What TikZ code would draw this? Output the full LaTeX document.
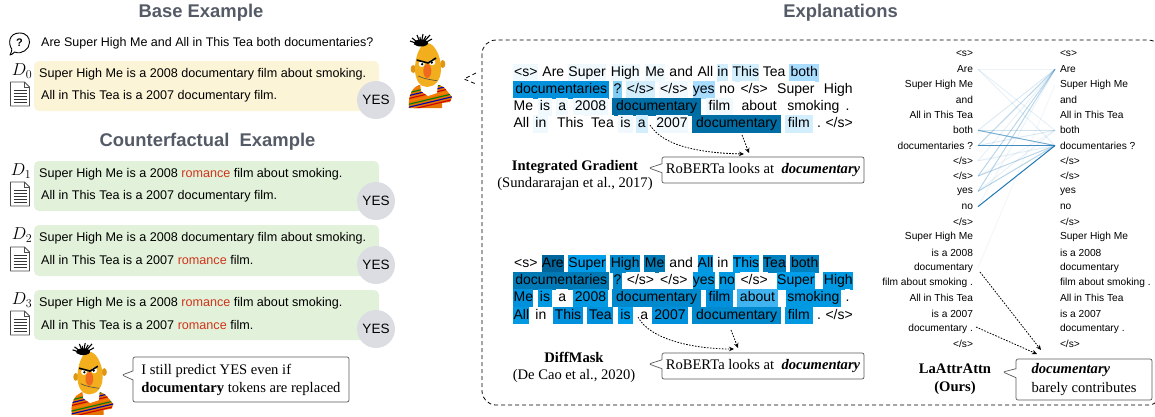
\documentclass[tikz,border=0pt]{standalone}
\usepackage{fontspec}
\setmainfont{Liberation Sans}
\newfontfamily\capfont{Liberation Serif}
\usetikzlibrary{shapes.callouts,arrows.meta}
\definecolor{headgrey}{HTML}{555B66}
\definecolor{yesgrey}{HTML}{DCDDE2}
\definecolor{basefill}{HTML}{FCF4D6}
\definecolor{cfill}{HTML}{E2F1D9}
\definecolor{swapred}{HTML}{D0351B}
\definecolor{edgeblue}{HTML}{1F77B4}
\definecolor{bertface}{HTML}{F2AE1C}
\definecolor{bertear}{HTML}{DE9614}
\definecolor{bertnose}{HTML}{F06A1E}
\definecolor{tz}{HTML}{FFFFFF}
\definecolor{ta}{HTML}{F0F9FE}
\definecolor{tb}{HTML}{D3EEFC}
\definecolor{tc}{HTML}{A8DDFF}
\definecolor{td}{HTML}{80CDF5}
\definecolor{te}{HTML}{0090DC}
\definecolor{tf}{HTML}{006EA5}
\definecolor{ma}{HTML}{00659B}
\definecolor{mb}{HTML}{009EEA}
\definecolor{mc}{HTML}{0089CC}
\definecolor{md}{HTML}{0079B5}
\definecolor{me}{HTML}{0099E2}
\definecolor{mf}{HTML}{0080BF}
\definecolor{mg}{HTML}{40B4F0}
\newcommand\eos{</s>}
\newcommand\tokrow[3]{%
  \foreach \a/\b/\c/\t [count=\i] in {#3} {
    \node[tokbox, fill=\c, minimum width={(\b-\a)/3}] (#1-\i) at ({480+(\a+\b)/6},#2) {\t};
  }}
\tikzset{
  tokbox/.style={inner sep=0pt, minimum height=17.2pt, text height=10.5pt, text depth=3pt, font=\fontsize{14}{14}\selectfont},
  head/.style={font=\fontsize{18.4}{20}\selectfont\bfseries, text=headgrey},
  doctext/.style={anchor=west, inner sep=0pt, font=\fontsize{12.6}{14}\selectfont},
  dlabel/.style={inner sep=0pt, font=\fontsize{18}{18}\selectfont},
  examplebox/.style={rounded corners=5pt},
  yescircle/.style={circle, fill=yesgrey, minimum size=38pt, inner sep=0pt, font=\fontsize{13.5}{14}\selectfont},
  speech/.style={rectangle callout, draw=black!65, fill=white, line width=.7pt, rounded corners=2pt, callout pointer width=9pt,
    inner sep=0pt, align=left, font=\capfont\fontsize{14.6}{18}\selectfont},
  method/.style={inner sep=0pt, align=center, font=\capfont\fontsize{14.6}{17.5}\selectfont},
  sidetok/.style={inner xsep=2.5pt, outer xsep=2.5pt, inner ysep=0pt, font=\fontsize{10.2}{11}\selectfont},
  dotarrow/.style={dash pattern=on 1.6pt off 1.4pt, line width=.8pt, -{Stealth[length=5pt,width=4.5pt]}},
  docicon/.pic={
    \draw[black!70, line width=.8pt, line join=round] (0,0) -- (14,0) -- (19,5) -- (19,24) -- (0,24) -- cycle;
    \draw[black!70, line width=.6pt] (14,0) -- (14,5) -- (19,5);
    \foreach \y in {8,11,14,17,20} \draw[black!80, line width=.7pt] (3,\y) -- (16,\y);
  },
  bert/.pic={
    % striped jumper
    \begin{scope}
      \clip (-21,75) .. controls (-22,62) and (-18,55) .. (-11,52) -- (9,52) .. controls (14,54) .. (17,58) -- (22,64) -- (20,69) -- (12,70) -- (12,75) -- cycle;
      \fill[orange!90!black] (-25,50) rectangle (25,78);
      \foreach \k/\co in {0/red!80!black,1/blue!70!black,2/green!50!black,3/orange,4/red!80!black,5/blue!70!black,6/green!50!black,7/orange,8/red!80!black,9/blue!70!black}
        \draw[\co, line width=1.1pt] (-25,{78-2.9*\k}) -- (25,{66-2.9*\k});
    \end{scope}
    \fill[white] (-10,50) -- (8,50) -- (7,60) -- (-2,63) -- (-9,58) -- cycle;
    % ears, head, nose
    \fill[bertear] (-16.7,36) ellipse (2.6 and 4);
    \fill[bertear] (12.7,31) ellipse (2.6 and 4);
    \fill[bertface] (-3,10) .. controls (4,10) and (11,22) .. (11,36) .. controls (11,48) and (4,54) .. (-3,54) .. controls (-10,54) and (-15,47) .. (-15,36) .. controls (-15,24) and (-10,10) .. (-3,10) -- cycle;
    % hair
    \foreach \xa/\ya in {-20/8,-18/5,-16/11,-13/2,-10/4,-7/1,-4/3,0/2,2/6}
      \draw[black, line width=1.1pt] (-9,12) -- (\xa,\ya);
    \fill[black] (-9,10) ellipse (7 and 3.5);
    % eyes and brows
    \fill[white] (-8.3,31) circle (3);
    \fill[white] (2.3,29.3) circle (3);
    \fill[black] (-7.8,31.2) circle (1.3);
    \fill[black] (1.8,29.6) circle (1.3);
    \draw[black, line width=1.6pt] (-13.3,27) -- (-2,30) -- (6,25);
    \fill[bertnose] (-2.7,38) ellipse (4 and 7);
    \draw[black!70, line width=.6pt] (-11.7,43) .. controls (-6,46) and (2,47) .. (7.3,47.7);
  }
}
\begin{document}
\begin{tikzpicture}[x=1pt,y=-1pt]
\useasboundingbox (0,0) rectangle (1155,416);
% left column
\node[head] (basehead) at (201,13) {Base Example};
\node[head] (cfhead) at (207.5,142) {Counterfactual~~Example};
\node[head] (explhead) at (840.5,13) {Explanations};
\draw[line width=.9pt, line join=round] (14.5,52) .. controls (12,54.5) .. (10,55) .. controls (11.5,52.5) and (12,50) .. (11.8,49) .. controls (8,44) and (8.5,33) .. (19.5,33) .. controls (27,33) and (29.5,38) .. (29.5,42.5) .. controls (29.5,49) and (22,55) .. (14.5,52);
\node[inner sep=0pt, font=\fontsize{11}{11}\selectfont\bfseries] (qmark) at (19.5,43) {?};
\node[doctext, font=\fontsize{12.5}{14}\selectfont] (question) at (41,43) {Are Super High Me and All in This Tea both documentaries?};
\fill[basefill, examplebox] (34,61) rectangle (379,111);
\fill[cfill, examplebox] (34,161) rectangle (379,211);
\fill[cfill, examplebox] (34,225) rectangle (379,276);
\fill[cfill, examplebox] (34,290) rectangle (379,340);
\node[dlabel] (d0) at (22,71) {$D_0$};
\node[dlabel] (d1) at (21,171) {$D_1$};
\node[dlabel] (d2) at (22,235) {$D_2$};
\node[dlabel] (d3) at (22,300) {$D_3$};
\pic at (10.5,82) {docicon};
\pic at (10.5,182) {docicon};
\pic at (10.5,247) {docicon};
\pic at (10.5,311) {docicon};
\node[doctext] (s0a) at (39,74) {Super High Me is a 2008 documentary film about smoking.};
\node[doctext] (s0b) at (41,96) {All in This Tea is a 2007 documentary film.};
\node[doctext] (s1a) at (39,174) {Super High Me is a 2008 \textcolor{swapred}{romance} film about smoking.};
\node[doctext] (s1b) at (41,196) {All in This Tea is a 2007 documentary film.};
\node[doctext] (s2a) at (39,238) {Super High Me is a 2008 documentary film about smoking.};
\node[doctext] (s2b) at (41,260) {All in This Tea is a 2007 \textcolor{swapred}{romance} film.};
\node[doctext] (s3a) at (39,303) {Super High Me is a 2008 \textcolor{swapred}{romance} film about smoking.};
\node[doctext] (s3b) at (41,325) {All in This Tea is a 2007 \textcolor{swapred}{romance} film.};
\node[yescircle] (yes0) at (376,100) {YES};
\node[yescircle] (yes1) at (376,201) {YES};
\node[yescircle] (yes2) at (376,265) {YES};
\node[yescircle] (yes3) at (376,329) {YES};
\pic at (430,33) {bert};
\pic[scale=.97] at (92,342) {bert};
\node[speech, minimum width=216pt, minimum height=45pt, callout absolute pointer={(122,375)}] (predict) at (241,379.5) {I still predict YES even if\\\textbf{documentary} tokens are replaced};
% explanations frame
\draw[dash pattern=on 4pt off 3pt, line width=.8pt] (476,73) -- (464,79) -- (476,84);
\draw[dash pattern=on 4pt off 3pt, line width=.8pt, rounded corners=14pt] (482,40) rectangle (1162,405);
% integrated gradient
\tokrow{iga}{73}{100/175/ta/<s>, 185/255/tz/Are, 265/378/ta/Super, 392/480/ta/High, 495/555/ta/Me, 567/640/tz/and, 652/700/tz/All, 712/745/tb/in, 757/838/tb/This, 850/915/tz/Tea, 928/1017/tc/both}
\tokrow{igb}{90}{100/387/te/documentaries, 400/425/td/?, 438/525/tb/\eos, 538/625/ta/\eos, 638/705/tc/yes, 718/765/tz/no, 780/865/tz/\eos, 890/1005/tz/Super, 1030/1120/tz/High}
\tokrow{igc}{107}{100/160/tz/Me, 175/215/ta/is, 228/265/ta/a, 278/385/ta/2008, 396/664/tf/documentary, 677/760/ta/film, 780/895/tz/about, 917/1083/tz/smoking, 1095/1110/tz/.}
\tokrow{igd}{124}{100/148/tz/All, 160/205/ta/in, 232/310/tz/This, 335/400/tz/Tea, 415/458/ta/is, 468/503/tb/a, 527/625/ta/2007, 636/904/tf/documentary, 915/998/tb/film, 1010/1025/tz/., 1035/1120/tz/\eos}
\coordinate (igfrom) at (650,125);
\coordinate (igto) at (744,154);
\coordinate (igfromb) at (742,135);
\coordinate (igtob) at (749,153);
\draw[dotarrow] (igfrom) .. controls (663,146) and (700,153) .. (igto);
\draw[dotarrow] (igfromb) -- (igtob);
\node[method] (igname) at (575,175.5) {\textbf{Integrated Gradient}\\(Sundararajan et al., 2017)};
\node[speech, minimum width=202pt, minimum height=26pt, callout absolute pointer={(649,168)}] (iglook) at (763,170) {RoBERTa looks at~~\textbf{\textit{documentary}}};
% diffmask
\tokrow{dma}{264}{100/175/tz/<s>, 186/251/ma/Are, 265/378/mb/Super, 391/480/mc/High, 493/555/md/Me, 567/640/tz/and, 653/700/me/All, 712/745/tz/in, 758/838/mb/This, 850/917/mf/Tea, 930/1018/mf/both}
\tokrow{dmb}{281}{100/388/md/documentaries, 400/425/mc/?, 438/525/tz/\eos, 538/625/tz/\eos, 638/705/me/yes, 718/765/me/no, 780/865/tz/\eos, 890/1005/mb/Super, 1030/1120/me/High}
\tokrow{dmc}{298}{100/160/te/Me, 175/215/me/is, 228/265/tz/a, 278/385/me/2008, 396/664/mc/documentary, 677/760/te/film, 770/895/mg/about, 917/1083/me/smoking, 1095/1110/tz/.}
\tokrow{dmd}{315.3}{100/148/me/All, 160/205/tz/in, 218/310/te/This, 322/400/te/Tea, 415/458/mb/is, 480/505/tz/a, 515/625/te/2007, 636/904/mc/documentary, 915/998/me/film, 1010/1025/tz/., 1035/1120/tz/\eos}
\coordinate (dmfrom) at (638,317);
\coordinate (dmto) at (734,349);
\coordinate (dmfromb) at (731,330);
\coordinate (dmtob) at (738,348);
\draw[dotarrow] (dmfrom) .. controls (650,340) and (695,349) .. (dmto);
\draw[dotarrow] (dmfromb) -- (dmtob);
\node[method] (dmname) at (574,367.5) {\textbf{DiffMask}\\(De Cao et al., 2020)};
\node[speech, minimum width=202pt, minimum height=26pt, callout absolute pointer={(649,364)}] (dmlook) at (763,366) {RoBERTa looks at~~\textbf{\textit{documentary}}};
% attention graph
\foreach \t [count=\i from 0] in {<s>,Are,Super High Me,and,All in This Tea,both,documentaries ?,\eos,\eos,yes,no,\eos,Super High Me,is a 2008,documentary,film about smoking .,All in This Tea,is a 2007,documentary .,\eos} {
  \node[sidetok, anchor=east] (l\i) at (978,{54+15.26*\i}) {\t};
  \node[sidetok, anchor=west] (r\i) at (1055,{54+15.26*\i}) {\t};
}
\foreach \a/\b/\o in {1/1/.08, 1/5/.1, 1/6/.1, 5/5/.22, 5/6/.6, 5/1/.15, 6/6/.85, 6/1/.3, 6/5/.15, 7/1/.1, 7/6/.12, 8/1/.3, 8/6/.3, 8/5/.08, 9/1/.3, 9/6/.32, 9/5/.1, 10/6/1, 10/1/.08, 14/2/.06}
  \draw[edgeblue, opacity=\o, line width=1pt] (l\a.east) -- (r\b.west);
\coordinate (lafrom) at (980,272);
\coordinate (lato) at (1041,350);
\coordinate (lafromb) at (976,327);
\coordinate (latob) at (1037,354);
\draw[dotarrow] (lafrom) -- (lato);
\draw[dotarrow] (lafromb) -- (latob);
\node[method] (laname) at (955,379) {\textbf{LaAttrAttn}\\\textbf{(Ours)}};
\node[speech, minimum width=136pt, minimum height=41pt, callout absolute pointer={(1003,372)}] (lalook) at (1084,379.5) {\textbf{\textit{documentary}}\\barely contributes};
\end{tikzpicture}
\end{document}
